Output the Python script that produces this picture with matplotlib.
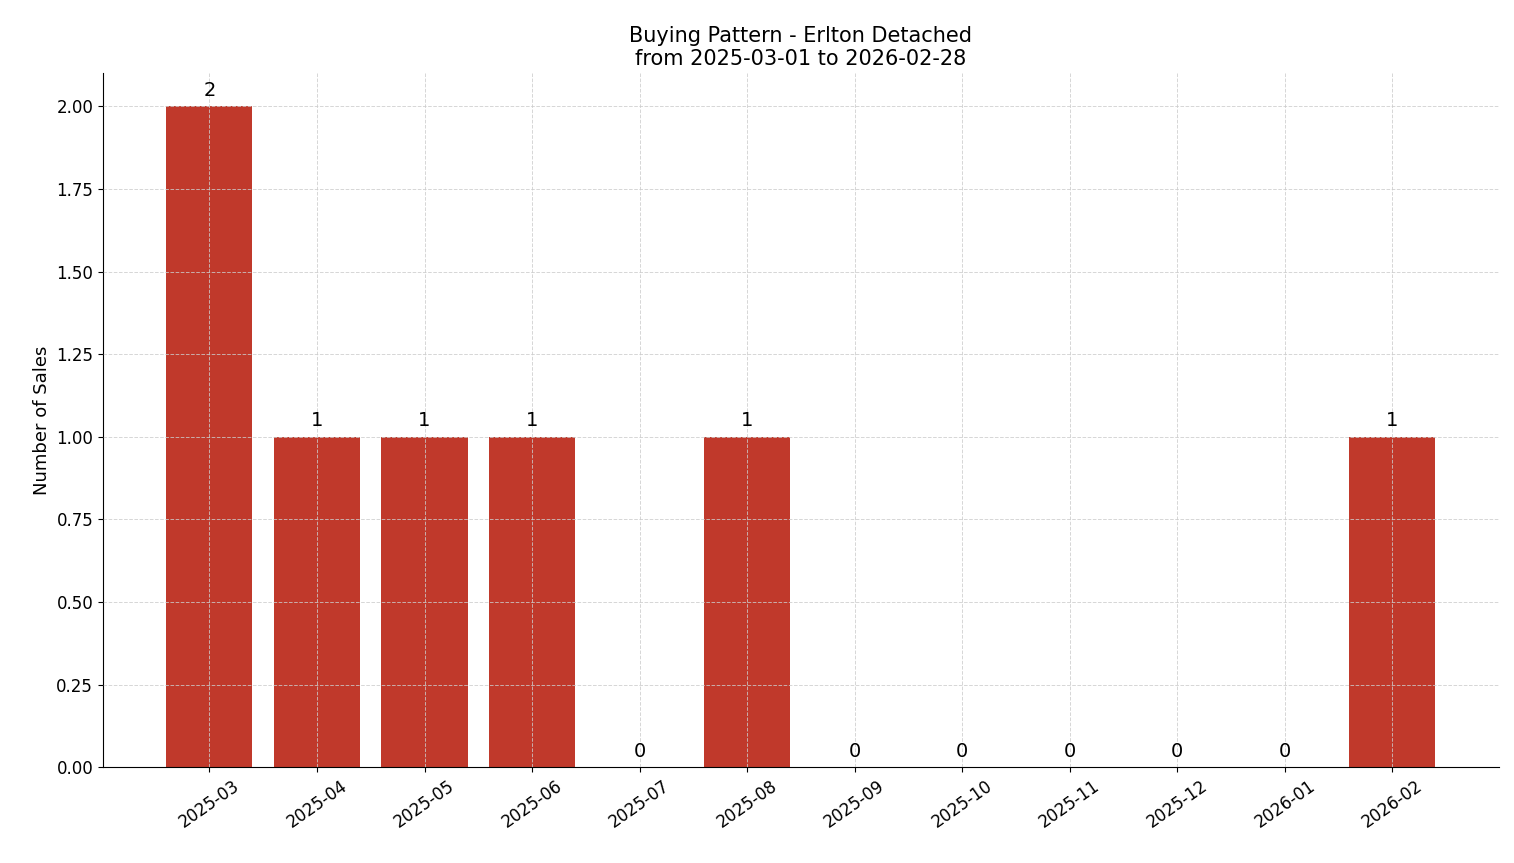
import matplotlib
matplotlib.use("Agg")
import matplotlib.pyplot as plt

months = ["2025-03","2025-04","2025-05","2025-06","2025-07","2025-08",
          "2025-09","2025-10","2025-11","2025-12","2026-01","2026-02"]
sales = [2, 1, 1, 1, 0, 1, 0, 0, 0, 0, 0, 1]

fig, ax = plt.subplots(figsize=(15.14, 8.63), dpi=100)
fig.subplots_adjust(left=0.068, right=0.990, top=0.915, bottom=0.111)
x = range(len(months))
bars = ax.bar(x, sales, color="#c0392b", width=0.8)
for xi, v in zip(x, sales):
    ax.text(xi, v + 0.02, str(v), ha="center", va="bottom", fontsize=14)
ax.set_xticks(list(x))
ax.set_xticklabels(months, rotation=35, fontsize=12)
ax.tick_params(axis="y", labelsize=12)
ax.set_ylim(0, 2.1)
ax.set_ylabel("Number of Sales", fontsize=13)
ax.set_title("Buying Pattern - Erlton Detached\nfrom 2025-03-01 to 2026-02-28", fontsize=15)
ax.grid(True, linestyle="--", color="#cccccc", linewidth=0.7, alpha=0.8)
ax.set_axisbelow(False)
for s in ["top", "right"]:
    ax.spines[s].set_visible(False)
fig.savefig("out.png", dpi=100)
